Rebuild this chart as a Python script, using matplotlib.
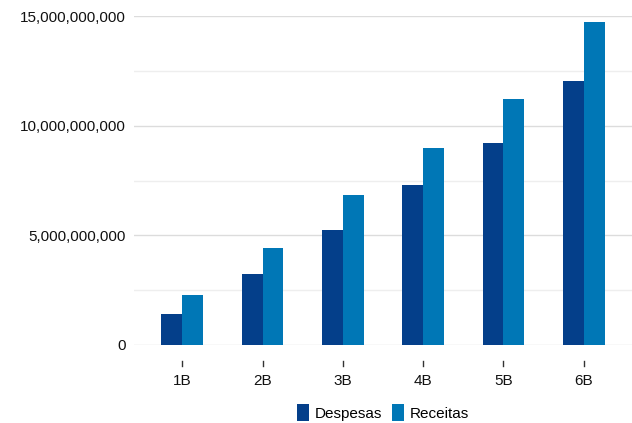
import matplotlib.pyplot as plt
from matplotlib.ticker import FuncFormatter, MultipleLocator
import numpy as np

categories = ["1B", "2B", "3B", "4B", "5B", "6B"]
despesas = [1.42e9, 3.23e9, 5.24e9, 7.31e9, 9.21e9, 12.05e9]
receitas = [2.27e9, 4.42e9, 6.84e9, 8.99e9, 11.22e9, 14.74e9]

plt.rcParams["font.family"] = ["Liberation Sans", "DejaVu Sans"]

fig = plt.figure(figsize=(6.32, 4.23), dpi=100)
ax = fig.add_axes([0.212, 0.185, 0.788, 0.7765])

x = np.arange(len(categories))
w = 0.26
ax.bar(x - w / 2, despesas, w, color="#043f8a", label="Despesas", zorder=3)
ax.bar(x + w / 2, receitas, w, color="#0077b6", label="Receitas", zorder=3)

ax.set_xlim(-0.6, 5.6)
ax.set_ylim(0, 15e9)

ax.yaxis.set_major_locator(MultipleLocator(5e9))
ax.yaxis.set_minor_locator(MultipleLocator(2.5e9))
ax.yaxis.set_major_formatter(FuncFormatter(lambda v, p: f"{v:,.0f}"))
ax.grid(axis="y", which="major", color="#dcdcdc", linewidth=1, zorder=0)
ax.grid(axis="y", which="minor", color="#eeeeee", linewidth=1, zorder=0)
ax.tick_params(axis="y", which="both", length=0, pad=6, labelsize=11, colors="#111111")

# category ticks sit a little below the baseline
ax.set_xticks(x)
ax.set_xticklabels(categories)
ax.tick_params(axis="x", length=0, pad=21, labelsize=11, colors="#111111")
trans = ax.get_xaxis_transform()
for xi in x:
    ax.plot([xi, xi], [-0.048, -0.064], transform=trans, color="#333333",
            linewidth=1, clip_on=False)

for s in ax.spines.values():
    s.set_visible(False)

ax.legend(loc="lower center", bbox_to_anchor=(0.5, -0.274), ncol=2, frameon=False,
          fontsize=11, handlelength=0.8, handleheight=1.3, handletextpad=0.4,
          columnspacing=0.6)

fig.savefig("out.png", dpi=100)
